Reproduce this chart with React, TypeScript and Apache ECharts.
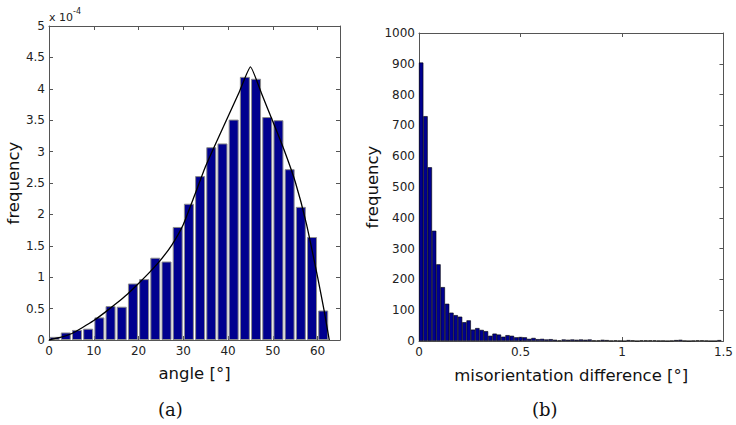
import React, { useEffect, useRef } from "react";
import * as echarts from "echarts";

// ---- Left panel (a): angle histogram, values in units of 1e-4 ----
const angleBinWidth = 2.5;
const angleFreq = [
  0.05, 0.12, 0.16, 0.18, 0.36, 0.54, 0.53, 0.9, 0.97, 1.31, 1.25, 1.8, 2.17,
  2.61, 3.07, 3.13, 3.51, 4.19, 4.16, 3.55, 3.5, 2.72, 2.12, 1.64, 0.47,
];
const curveX = [
  0, 2.5, 5, 7.5, 10, 12.5, 15, 17.5, 20, 22.5, 25, 27.5, 30, 32.5, 35, 37.5,
  40, 42.5, 45, 47.5, 50, 52.5, 55, 57.5, 60, 61.5, 62.6,
];
const curveY = [
  0, 0.04, 0.1, 0.2, 0.31, 0.44, 0.58, 0.73, 0.9, 1.08, 1.28, 1.52, 1.84, 2.3,
  2.77, 3.17, 3.56, 3.95, 4.35, 3.92, 3.48, 3.03, 2.52, 1.85, 1.0, 0.45, 0,
];

// ---- Right panel (b): misorientation difference histogram ----
const misoBinWidth = 1.49 / 70;
const misoFreq = [
  904, 730, 564, 358, 249, 175, 121, 92, 84, 79, 61, 67, 37, 42, 36, 32, 17, 24,
  21, 14, 19, 17, 12, 13, 12, 7, 10, 6, 7, 5, 6, 4, 2, 5, 4, 5, 4, 5, 4, 5, 2,
  2, 4, 3, 1, 2, 1, 0, 3, 2, 0, 2, 2, 2, 2, 1, 1, 0, 1, 3, 4, 1, 0, 1, 2, 2, 1,
  0, 0, 3,
];

const BAR_COLOR = "#00008f";
const AXIS_COLOR = "#555";
const FONT = "DejaVu Sans";

function boxAxes(
  gridIndex: number,
  min: number,
  max: number,
  interval: number,
  name: string,
  nameGap: number,
  isX: boolean,
  fmt?: (v: number) => string
) {
  const common = {
    gridIndex,
    type: "value" as const,
    min,
    max,
    interval,
    splitLine: { show: false },
    axisLine: { show: true, onZero: false, lineStyle: { color: AXIS_COLOR, width: 1 } },
    axisTick: { show: true, inside: true, length: 4, lineStyle: { color: AXIS_COLOR } },
  };
  const main = {
    ...common,
    position: isX ? "bottom" : "left",
    name,
    nameLocation: "middle",
    nameGap,
    nameTextStyle: { fontFamily: FONT, fontSize: 16.5, color: "#111" },
    axisLabel: {
      show: true,
      fontFamily: FONT,
      fontSize: 12,
      color: "#222",
      margin: isX ? 5 : 4,
      showMaxLabel: isX ? max % interval === 0 : true,
      formatter: fmt,
    },
  };
  const opp = {
    ...common,
    position: isX ? "top" : "right",
    axisLabel: { show: false },
  };
  return [main, opp];
}

export default function App() {
  const ref = useRef<HTMLDivElement>(null);
  useEffect(() => {
    if (!ref.current) return;
    const chart = echarts.init(ref.current, undefined, { renderer: "svg" });

    const angleData = angleFreq.map((v, i) => [angleBinWidth * (i + 0.5), v]);
    const curveData = curveX.map((x, i) => [x, curveY[i]]);
    const misoData = misoFreq.map((v, i) => [misoBinWidth * (i + 0.5), v]);

    const xa = [
      ...boxAxes(0, 0, 65, 10, "angle [°]", 25, true, (v) => String(v)),
      ...boxAxes(1, 0, 1.5, 0.5, "misorientation difference [°]", 26, true, (v) => String(v)),
    ];
    const ya = [
      ...boxAxes(0, 0, 5, 0.5, "frequency", 27, false, (v) => String(v)),
      ...boxAxes(1, 0, 1000, 100, "frequency", 36, false, (v) => String(v)),
    ];

    chart.setOption({
      animation: false,
      backgroundColor: "#fff",
      grid: [
        { left: 49, top: 26, width: 291, height: 314 },
        { left: 419, top: 33, width: 306, height: 308 },
      ],
      xAxis: xa,
      yAxis: ya,
      series: [
        {
          type: "bar",
          xAxisIndex: 0,
          yAxisIndex: 0,
          data: angleData,
          barWidth: 10,
          itemStyle: { color: BAR_COLOR, borderColor: "#8c8c8c", borderWidth: 1 },
        },
        {
          type: "line",
          xAxisIndex: 0,
          yAxisIndex: 0,
          data: curveData,
          symbol: "none",
          smooth: 0.15,
          lineStyle: { color: "#000", width: 1.3 },
          z: 5,
        },
        {
          type: "bar",
          xAxisIndex: 2,
          yAxisIndex: 2,
          data: misoData,
          barWidth: 4.4,
          itemStyle: { color: BAR_COLOR, borderColor: "#000", borderWidth: 0.6 },
        },
      ],
      graphic: [
        {
          type: "text",
          left: 49,
          top: 12,
          style: { text: "x 10", font: `11px "${FONT}"`, fill: "#222" },
        },
        {
          type: "text",
          left: 73,
          top: 7,
          style: { text: "-4", font: `8px "${FONT}"`, fill: "#222" },
        },
        {
          type: "text",
          left: 158,
          top: 400,
          style: { text: "(a)", font: `18px "DejaVu Serif"`, fill: "#111" },
        },
        {
          type: "text",
          left: 532,
          top: 400,
          style: { text: "(b)", font: `18px "DejaVu Serif"`, fill: "#111" },
        },
      ],
    });
    return () => chart.dispose();
  }, []);
  return (
    <div
      ref={ref}
      style={{ position: "fixed", left: 0, top: 0, width: 736, height: 425, background: "#fff" }}
    />
  );
}
